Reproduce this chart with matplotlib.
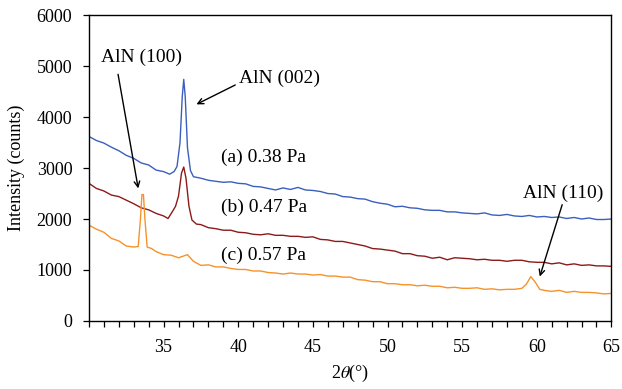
import matplotlib
matplotlib.use('Agg')
import matplotlib.pyplot as plt

# (a) 0.38 Pa
two_theta_a = [30.0, 30.5, 31.0, 31.5, 32.0, 32.5, 33.0, 33.5, 34.0, 34.5, 35.0, 35.4, 35.7, 35.9,
               36.1, 36.25, 36.35, 36.45, 36.6, 36.8, 37.0, 37.5, 38.0, 38.5, 39.0, 39.5,
               40.0, 40.5, 41.0, 41.5, 42.0, 42.5, 43.0, 43.5, 44.0, 44.5, 45.0, 45.5, 46.0,
               46.5, 47.0, 47.5, 48.0, 48.5, 49.0, 49.5, 50.0, 50.5, 51.0, 51.5, 52.0, 52.5,
               53.0, 53.5, 54.0, 54.5, 55.0, 55.5, 56.0, 56.5, 57.0, 57.5, 58.0, 58.5, 59.0,
               59.5, 60.0, 60.5, 61.0, 61.5, 62.0, 62.5, 63.0, 63.5, 64.0, 64.5, 65.0]
counts_a = [3620, 3540, 3490, 3410, 3340, 3250, 3190, 3100, 3060, 2960, 2930, 2880, 2930, 3030,
            3500, 4400, 4740, 4400, 3400, 2950, 2830, 2800, 2760, 2740, 2720, 2730,
            2700, 2690, 2640, 2630, 2600, 2570, 2610, 2580, 2620, 2570, 2560, 2540, 2500,
            2490, 2440, 2430, 2400, 2390, 2340, 2310, 2290, 2240, 2250, 2220, 2210, 2180,
            2170, 2170, 2140, 2140, 2120, 2110, 2100, 2120, 2080, 2070, 2090, 2060, 2050,
            2070, 2040, 2050, 2030, 2040, 2010, 2030, 2000, 2020, 1990, 1990, 2000]

# (b) 0.47 Pa
two_theta_b = [30.0, 30.5, 31.0, 31.5, 32.0, 32.5, 33.0, 33.5, 34.0, 34.5, 35.0, 35.3, 35.6, 35.8,
               36.0, 36.2, 36.35, 36.5, 36.7, 36.9, 37.2, 37.5, 38.0, 38.5, 39.0, 39.5,
               40.0, 40.5, 41.0, 41.5, 42.0, 42.5, 43.0, 43.5, 44.0, 44.5, 45.0, 45.5, 46.0,
               46.5, 47.0, 47.5, 48.0, 48.5, 49.0, 49.5, 50.0, 50.5, 51.0, 51.5, 52.0, 52.5,
               53.0, 53.5, 54.0, 54.5, 55.0, 55.5, 56.0, 56.5, 57.0, 57.5, 58.0, 58.5, 59.0,
               59.5, 60.0, 60.5, 61.0, 61.5, 62.0, 62.5, 63.0, 63.5, 64.0, 64.5, 65.0]
counts_b = [2700, 2600, 2550, 2470, 2440, 2370, 2300, 2220, 2180, 2110, 2060, 2010, 2150, 2250,
            2450, 2900, 3020, 2800, 2250, 1980, 1900, 1890, 1830, 1810, 1780, 1780,
            1740, 1730, 1700, 1690, 1710, 1680, 1680, 1660, 1660, 1640, 1650, 1600, 1590,
            1560, 1560, 1530, 1500, 1470, 1420, 1410, 1390, 1370, 1320, 1320, 1280, 1270,
            1230, 1250, 1200, 1240, 1230, 1220, 1200, 1210, 1190, 1190, 1170, 1190, 1190,
            1160, 1150, 1150, 1120, 1140, 1100, 1120, 1090, 1100, 1080, 1080, 1070]

# (c) 0.57 Pa
two_theta_c = [30.0, 30.5, 31.0, 31.5, 32.0, 32.5, 33.0, 33.3, 33.45, 33.55, 33.65, 33.75, 33.9,
               34.2, 34.5, 35.0, 35.5, 36.0, 36.3, 36.6, 37.0, 37.5, 38.0, 38.5, 39.0, 39.5,
               40.0, 40.5, 41.0, 41.5, 42.0, 42.5, 43.0, 43.5, 44.0, 44.5, 45.0, 45.5, 46.0,
               46.5, 47.0, 47.5, 48.0, 48.5, 49.0, 49.5, 50.0, 50.5, 51.0, 51.5, 52.0, 52.5,
               53.0, 53.5, 54.0, 54.5, 55.0, 55.5, 56.0, 56.5, 57.0, 57.5, 58.0, 58.5, 59.0,
               59.3, 59.6, 59.9, 60.2, 60.5, 61.0, 61.5, 62.0, 62.5, 63.0, 63.5, 64.0, 64.5, 65.0]
counts_c = [1880, 1800, 1740, 1620, 1570, 1470, 1450, 1460, 2000, 2480, 2480, 2000, 1450,
            1420, 1360, 1300, 1290, 1240, 1270, 1300, 1170, 1090, 1100, 1060, 1060, 1030,
            1010, 1010, 980, 980, 950, 940, 920, 940, 920, 920, 900, 910, 880,
            880, 860, 860, 810, 800, 770, 770, 730, 730, 710, 710, 690, 700,
            680, 680, 650, 660, 640, 640, 650, 620, 630, 610, 620, 620, 640,
            720, 870, 760, 620, 600, 580, 600, 560, 580, 560, 560, 550, 530, 540]

series_labels = ['(a) 0.38 Pa', '(b) 0.47 Pa', '(c) 0.57 Pa']
series_colors = ['#3b5fbf', '#8c1a1a', '#f7922a']

y_ticks = [0, 1000, 2000, 3000, 4000, 5000, 6000]
x_ticks = list(range(30, 66))
x_tick_labels = [str(t) if t % 5 == 0 and t > 30 else '' for t in x_ticks]


def main():
    plt.rcParams['font.family'] = ['Liberation Serif', 'DejaVu Serif']
    plt.rcParams['mathtext.fontset'] = 'stix'

    fig = plt.figure(figsize=(6.22, 3.89), dpi=100)
    ax = fig.add_axes([0.143, 0.175, 0.840, 0.786])

    data = [(two_theta_a, counts_a), (two_theta_b, counts_b), (two_theta_c, counts_c)]
    for (x, y), color in zip(data, series_colors):
        ax.plot(x, y, color=color, lw=1.0)

    ax.set_xlim(30, 65)
    ax.set_ylim(0, 6000)
    ax.set_xticks(x_ticks)
    ax.set_xticklabels(x_tick_labels)
    ax.set_yticks(y_ticks)
    ax.tick_params(direction='out', length=4, width=0.9, labelsize=13)
    ax.tick_params(axis='x', pad=9)
    ax.tick_params(axis='y', pad=8)
    for s in ax.spines.values():
        s.set_linewidth(1.0)

    ax.set_xlabel(r'2$\theta$(°)', fontsize=13, labelpad=5)
    ax.set_ylabel('Intensity (counts)', fontsize=13, labelpad=8)

    # curve labels
    for label, yv in zip(series_labels, [3216, 2235, 1294]):
        ax.text(38.85, yv, label, fontsize=14, va='center', ha='left')

    # peak labels, arrows drawn separately so they start where the original ones do
    arrow = dict(arrowstyle='->', color='black', lw=1.0, shrinkA=0, shrinkB=0)
    ax.text(33.5, 5180, 'AlN (100)', fontsize=14, ha='center', va='center')
    ax.annotate('', xy=(33.3, 2600), xytext=(31.95, 4840), arrowprops=arrow)
    ax.text(42.75, 4770, 'AlN (002)', fontsize=14, ha='center', va='center')
    ax.annotate('', xy=(37.2, 4250), xytext=(39.8, 4630), arrowprops=arrow)
    ax.text(61.75, 2510, 'AlN (110)', fontsize=14, ha='center', va='center')
    ax.annotate('', xy=(60.2, 870), xytext=(61.7, 2280), arrowprops=arrow)

    fig.savefig('out.png', dpi=100)


if __name__ == '__main__':
    main()
